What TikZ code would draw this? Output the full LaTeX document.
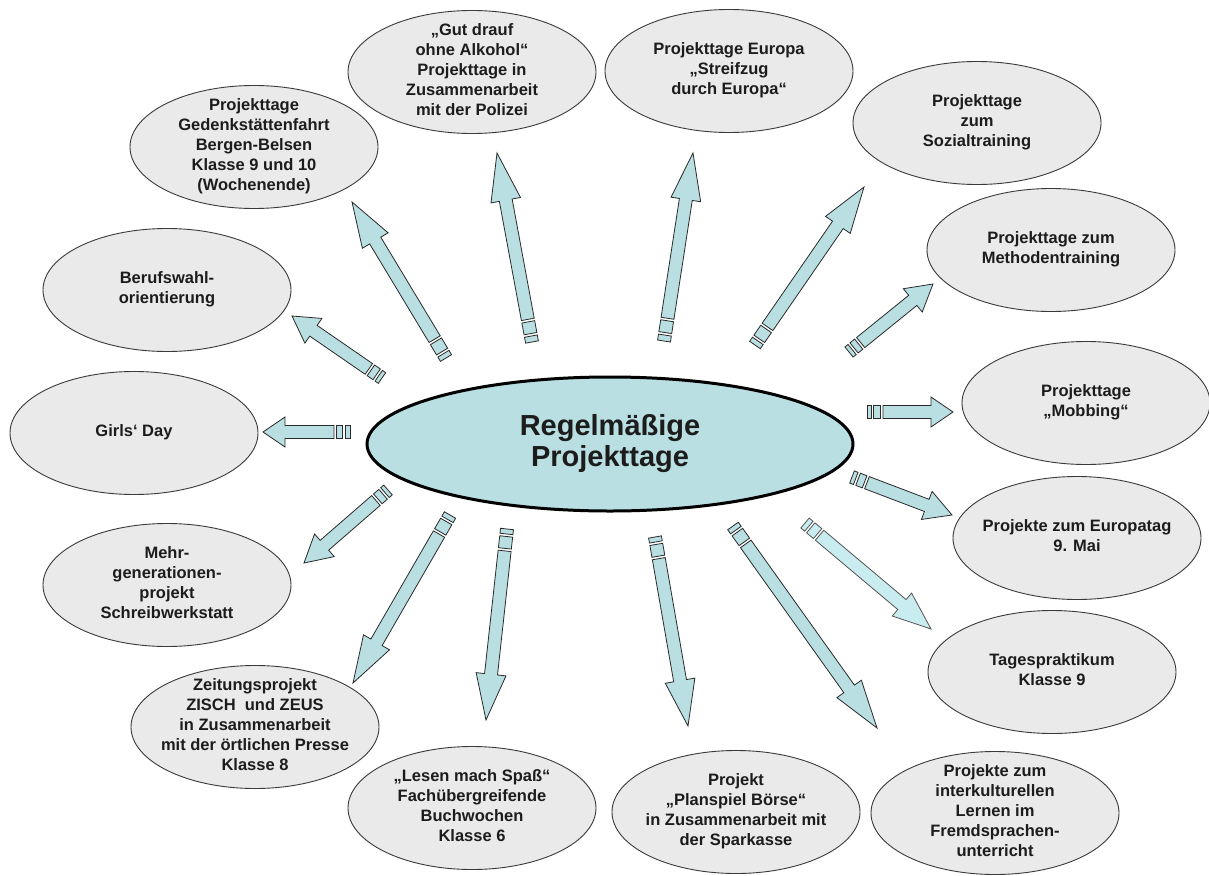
\documentclass[tikz,border=0pt]{standalone}
\usepackage{fontspec}
\setmainfont{Liberation Sans}
\usetikzlibrary{shapes.geometric,calc}

\definecolor{bubfill}{HTML}{EAEAEA}
\definecolor{bubline}{HTML}{3A3A3A}
\definecolor{hubfill}{HTML}{B9DFE2}
\definecolor{arrfill}{HTML}{B9DFE2}
\definecolor{arrfilllight}{HTML}{C8ECEF}
\definecolor{arrline}{HTML}{2A2A2A}
\definecolor{txt}{HTML}{1C1C1C}

% centred multi-line text that does not enlarge the ellipse around it
\newcommand\bubtext[1]{\smash{\raisebox{-4pt}{\makebox[0pt]{\begin{tabular}{@{}c@{}}#1\end{tabular}}}}}

% striped block arrow from a tail coordinate to a tip coordinate
% #1 tail, #2 tip, #3 head length, #4 outer stripe, #5 inner stripe, #6 style
\newcommand\stripedarrow[6]{%
  \path let \p1=(#1), \p2=(#2) in \pgfextra{%
    \pgfmathsetmacro\arAng{atan2(\y2-\y1,\x2-\x1)}%
    \pgfmathsetmacro\arLen{veclen(\x2-\x1,\y2-\y1)}%
    \xdef\arAng{\arAng}\xdef\arLen{\arLen}};
  \begin{scope}[shift={(#1)}, rotate=\arAng, x=1pt, y=1pt]
    \pgfmathsetmacro\arA{#4}
    \pgfmathsetmacro\arB{#4+2.5}
    \pgfmathsetmacro\arC{#4+2.5+#5}
    \pgfmathsetmacro\arD{#4+5+#5}
    \pgfmathsetmacro\arE{\arLen-#3}
    \draw[#6] (0,-6.5) rectangle (\arA,6.5);
    \draw[#6] (\arB,-6.5) rectangle (\arC,6.5);
    \draw[#6] (\arD,-6.5) -- (\arE,-6.5) -- (\arE,-15) -- (\arLen,0)
      -- (\arE,15) -- (\arE,6.5) -- (\arD,6.5) -- cycle;
  \end{scope}}

\tikzset{
  bub/.style={ellipse, draw=bubline, fill=bubfill, line width=0.9pt,
    minimum width=248pt, minimum height=123pt, inner sep=0pt, text=txt,
    font=\fontsize{16.5}{20}\selectfont\bfseries},
  hub/.style={ellipse, draw=black, line width=3pt, fill=hubfill,
    minimum width=486pt, minimum height=134pt, inner sep=0pt, align=center,
    text=txt, font=\fontsize{29}{31}\selectfont\bfseries},
  arr/.style={fill=arrfill, draw=arrline, line width=0.8pt, line join=miter},
  arrlight/.style={fill=arrfilllight, draw=arrline!80, line width=0.8pt, line join=miter},
}

\begin{document}
\begin{tikzpicture}[x=1pt,y=-1pt]
\fill[white] (0,0) rectangle (1209,875);
\useasboundingbox (0,0) rectangle (1209,875);

% centre
\node[hub] (hub) at (610,444) {Regelmäßige\\Projekttage};

% surrounding topics
\node[bub] (gedenk) at (254,147) {\bubtext{Projekttage\\Gedenkstättenfahrt\\Bergen-Belsen\\Klasse 9 und 10\\(Wochenende)}};
\node[bub] (gutdrauf) at (472,72) {\bubtext{„Gut drauf\\ohne Alkohol“\\Projekttage in\\Zusammenarbeit\\mit der Polizei}};
\node[bub] (europa) at (729,71) {\bubtext{Projekttage Europa\\„Streifzug\\durch Europa“}};
\node[bub] (sozial) at (977,123) {\bubtext{Projekttage\\zum\\Sozialtraining}};
\node[bub] (methoden) at (1051,250) {\bubtext{Projekttage zum\\Methodentraining}};
\node[bub] (mobbing) at (1086,403) {\bubtext{Projekttage\\„Mobbing“}};
\node[bub] (europatag) at (1077,538) {\bubtext{Projekte zum Europatag\\9. Mai}};
\node[bub] (tages) at (1052,672) {\bubtext{Tagespraktikum\\Klasse 9}};
\node[bub] (interkult) at (995,813) {\bubtext{Projekte zum\\interkulturellen\\Lernen im\\Fremdsprachen-\\unterricht}};
\node[bub] (planspiel) at (736,812) {\bubtext{Projekt\\„Planspiel Börse“\\in Zusammenarbeit mit\\der Sparkasse}};
\node[bub] (lesen) at (472,808) {\bubtext{„Lesen mach Spaß“\\Fachübergreifende\\Buchwochen\\Klasse 6}};
\node[bub] (zeitung) at (255,727) {\bubtext{Zeitungsprojekt\\ZISCH\ \ und ZEUS\\in Zusammenarbeit\\mit der örtlichen Presse\\Klasse 8}};
\node[bub] (mehrgen) at (167,585) {\bubtext{Mehr-\\generationen-\\projekt\\Schreibwerkstatt}};
\node[bub] (girls) at (134,433) {\bubtext{Girls‘ Day}};
\node[bub] (beruf) at (167,290) {\bubtext{Berufswahl-\\orientierung}};

% arrow tails (near the centre) and tips (near the topics)
\coordinate (t1) at (446,358);  \coordinate (h1) at (352,202);
\coordinate (t2) at (532,342);  \coordinate (h2) at (497,153);
\coordinate (t3) at (664,341);  \coordinate (h3) at (693,153);
\coordinate (t4) at (755,345);  \coordinate (h4) at (864,187);
\coordinate (t5) at (849,352);  \coordinate (h5) at (933,284);
\coordinate (t6) at (867,412);  \coordinate (h6) at (953,412);
\coordinate (t7) at (852,477);  \coordinate (h7) at (952,515);
\coordinate (t8) at (805,523);  \coordinate (h8) at (931,629);
\coordinate (t9) at (733,526);  \coordinate (h9) at (877,728);
\coordinate (t10) at (655,537); \coordinate (h10) at (688,726);
\coordinate (t11) at (507,529); \coordinate (h11) at (486,720);
\coordinate (t12) at (450,515); \coordinate (h12) at (353,683);
\coordinate (t13) at (388,490); \coordinate (h13) at (304,563);
\coordinate (t14) at (350,432); \coordinate (h14) at (263,432);
\coordinate (t15) at (382,378); \coordinate (h15) at (292,316);

\stripedarrow{t1}{h1}{45}{5}{12}{arr}
\stripedarrow{t2}{h2}{48}{6}{12}{arr}
\stripedarrow{t3}{h3}{47}{6}{12}{arr}
\stripedarrow{t4}{h4}{46}{5}{12}{arr}
\stripedarrow{t5}{h5}{26}{4}{6}{arr}
\stripedarrow{t6}{h6}{22}{4}{7}{arr}
\stripedarrow{t7}{h7}{27}{4}{7}{arr}
\stripedarrow{t8}{h8}{38}{5}{9}{arrlight}
\stripedarrow{t9}{h9}{48}{5}{12}{arr}
\stripedarrow{t10}{h10}{46}{5}{12}{arr}
\stripedarrow{t11}{h11}{46}{5}{12}{arr}
\stripedarrow{t12}{h12}{47}{5}{12}{arr}
\stripedarrow{t13}{h13}{27}{4}{7}{arr}
\stripedarrow{t14}{h14}{22}{5}{6}{arr}
\stripedarrow{t15}{h15}{26}{4}{7}{arr}
\end{tikzpicture}
\end{document}
